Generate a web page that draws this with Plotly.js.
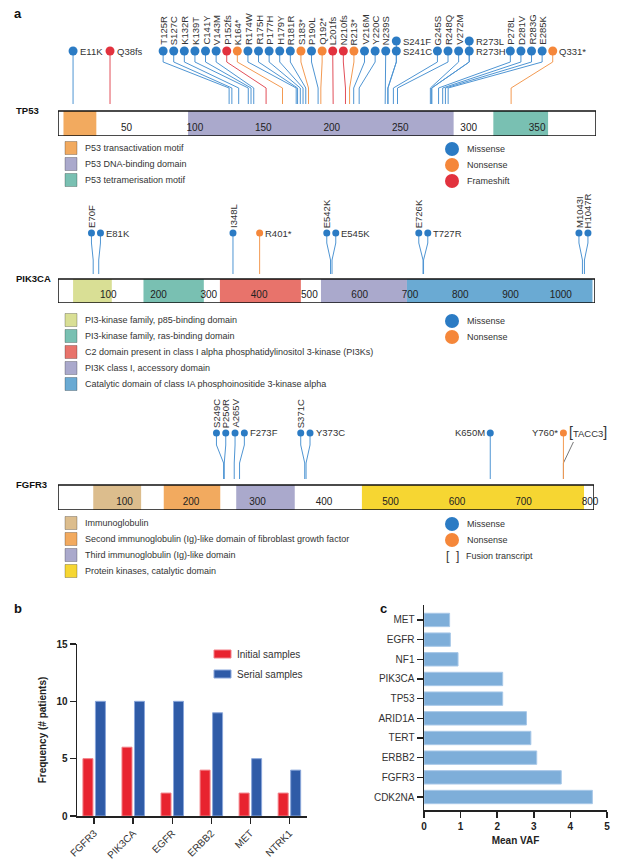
<!DOCTYPE html>
<html><head><meta charset="utf-8">
<script src="https://cdn.plot.ly/plotly-3.0.1.min.js"></script>
<style>html,body{margin:0;padding:0;background:#fff}</style>
</head><body><div id="chart" style="width:634px;height:861px"></div>
<script>
// ================= DATA =================
// --- TP53 lollipop ---
const tp53Length = 393;
const tp53Ticks = [50, 100, 150, 200, 250, 300, 350];
const tp53DomainNames = ['P53 transactivation motif', 'P53 DNA-binding domain', 'P53 tetramerisation motif'];
const tp53DomainStart = [4, 95, 318];
const tp53DomainEnd = [28, 289, 358];
const tp53Mutations = ['E11K','Q38fs','T125R','S127C','K132R','K139T','C141Y','V143M','P152fs','K164*','R174W','R175H','P177H','H179Y','R181R','S183*','P190L','Q192*','L201fs','N210fs','R213*','V216M','Y220C','N239S','S241F','S241C','G245S','R248Q','V272M','R273L','R273H','P278L','D281V','R283G','E285K','Q331*'];
const tp53Types = ['Missense','Frameshift','Missense','Missense','Missense','Missense','Missense','Missense','Frameshift','Nonsense','Missense','Missense','Missense','Missense','Missense','Nonsense','Missense','Nonsense','Frameshift','Frameshift','Nonsense','Missense','Missense','Missense','Missense','Missense','Missense','Missense','Missense','Missense','Missense','Missense','Missense','Missense','Missense','Nonsense'];
const tp53LabelSide = ['right','right','up','up','up','up','up','up','up','up','up','up','up','up','up','up','up','up','up','up','up','up','up','up','right','right','up','up','up','right','right','up','up','up','up','right'];

// --- PIK3CA lollipop ---
const pik3caLength = 1068;
const pik3caTicks = [100, 200, 300, 400, 500, 600, 700, 800, 900, 1000];
const pik3caDomainNames = ['PI3-kinase family, p85-binding domain', 'PI3-kinase family, ras-binding domain', 'C2 domain present in class I alpha phosphatidylinositol 3-kinase (PI3Ks)', 'PI3K class I, accessory domain', 'Catalytic domain of class IA phosphoinositide 3-kinase alpha'];
const pik3caDomainStart = [30, 170, 322, 523, 694];
const pik3caDomainEnd = [107, 290, 483, 694, 1063];
const pik3caMutations = ['E70F','E81K','I348L','R401*','E542K','E545K','E726K','T727R','M1043I','H1047R'];
const pik3caTypes = ['Missense','Missense','Missense','Nonsense','Missense','Missense','Missense','Missense','Missense','Missense'];
const pik3caLabelSide = ['up','right','up','right','up','right','up','right','up','up'];

// --- FGFR3 lollipop ---
const fgfr3Length = 806;
const fgfr3Ticks = [100, 200, 300, 400, 500, 600, 700, 800];
const fgfr3DomainNames = ['Immunoglobulin', 'Second immunoglobulin (Ig)-like domain of fibroblast growth factor', 'Third immunoglobulin (Ig)-like domain', 'Protein kinases, catalytic domain'];
const fgfr3DomainStart = [53, 159, 268, 457];
const fgfr3DomainEnd = [125, 244, 356, 791];
const fgfr3Mutations = ['S249C','P250R','A265V','F273F','S371C','Y373C','K650M','Y760*'];
const fgfr3Types = ['Missense','Missense','Missense','Missense','Missense','Missense','Missense','Nonsense'];
const fgfr3LabelSide = ['up','up','up','right','up','right','left','left'];
const fgfr3FusionPartners = ['TACC3'];
const fgfr3FusionPositions = [760];

// --- panel b ---
const bGenes = ['FGFR3', 'PIK3CA', 'EGFR', 'ERBB2', 'MET', 'NTRK1'];
const bInitial = [5, 6, 2, 4, 2, 2];
const bSerial = [10, 10, 10, 9, 5, 4];
const bSeriesNames = ['Initial samples', 'Serial samples'];

// --- panel c ---
const cGenes = ['CDK2NA', 'FGFR3', 'ERBB2', 'TERT', 'ARID1A', 'TP53', 'PIK3CA', 'NF1', 'EGFR', 'MET'];
const cMeanVAF = [4.60, 3.75, 3.08, 2.92, 2.80, 2.15, 2.15, 0.93, 0.72, 0.70];

// ================= STYLE / LAYOUT =================
const W = 634, H = 861;
const FONT = 'Liberation Sans, Arial, Helvetica, sans-serif';
const px2x = p => p / W;
const px2y = p => 1 - p / H;
const typeColors = {Missense: '#2b7bc4', Nonsense: '#f5873a', Frameshift: '#e2323e'};
const lineColors = {Missense: '#4f95d3', Nonsense: '#f39a52', Frameshift: '#e24f59'};

const panels = [
  {gene: 'TP53', length: tp53Length, ticks: tp53Ticks, domNames: tp53DomainNames, domStart: tp53DomainStart, domEnd: tp53DomainEnd,
   domColors: ['#f2aa5f', '#aaa9cc', '#79c0b2'], mutations: tp53Mutations, types: tp53Types, sides: tp53LabelSide, fusions: [], fusionPos: [],
   top: 0, barLeft: 58, barRight: 596, barTop: 111, barBottom: 136, headY: 51, stackDy: 10, kink1: 62, kink2: 88, lineBottom: 104,
   gap: 10.6, headSize: 9, legendY: 148, mutLegend: ['Missense', 'Nonsense', 'Frameshift']},
  {gene: 'PIK3CA', length: pik3caLength, ticks: pik3caTicks, domNames: pik3caDomainNames, domStart: pik3caDomainStart, domEnd: pik3caDomainEnd,
   domColors: ['#d9df95', '#79c0b2', '#e8736b', '#aaa9cc', '#6aaad3'], mutations: pik3caMutations, types: pik3caTypes, sides: pik3caLabelSide, fusions: [], fusionPos: [],
   top: 185, barLeft: 58, barRight: 595, barTop: 279, barBottom: 303, headY: 233, stackDy: 9, kink1: 243, kink2: 260, lineBottom: 274,
   gap: 9, headSize: 7, legendY: 320, mutLegend: ['Missense', 'Nonsense']},
  {gene: 'FGFR3', length: fgfr3Length, ticks: fgfr3Ticks, domNames: fgfr3DomainNames, domStart: fgfr3DomainStart, domEnd: fgfr3DomainEnd,
   domColors: ['#dcbd8d', '#f2aa5f', '#aaa9cc', '#f6d632'], mutations: fgfr3Mutations, types: fgfr3Types, sides: fgfr3LabelSide, fusions: fgfr3FusionPartners, fusionPos: fgfr3FusionPositions,
   top: 380, barLeft: 58, barRight: 594, barTop: 485, barBottom: 510, headY: 433, stackDy: 9, kink1: 445, kink2: 463, lineBottom: 479,
   gap: 9.3, headSize: 7, legendY: 523, mutLegend: ['Missense', 'Nonsense', 'Fusion']}
];

const traces = [];
const shapes = [];
const annotations = [];
const layout = {
  width: W, height: H, margin: {l: 0, r: 0, t: 0, b: 0},
  paper_bgcolor: '#fff', plot_bgcolor: 'rgba(0,0,0,0)',
  font: {family: FONT, color: '#222'}, showlegend: false,
  barmode: 'group', bargap: 0.36, bargroupgap: 0.2,
  shapes, annotations
};

const labelWidth = s => s.length * 5.3 + 4;
const parsePos = s => parseInt(s.match(/\d+/)[0], 10);

panels.forEach((P, k) => {
  const n = k + 1;
  const xa = n === 1 ? 'x' : 'x' + n, ya = n === 1 ? 'y' : 'y' + n;
  const xName = n === 1 ? 'xaxis' : 'xaxis' + n, yName = n === 1 ? 'yaxis' : 'yaxis' + n;
  const ppa = (P.barRight - P.barLeft) / P.length;
  layout[xName] = {domain: [px2x(P.barLeft), px2x(P.barRight)], range: [0, P.length], anchor: ya,
    showgrid: false, zeroline: false, showline: false, ticks: '', tickvals: P.ticks, ticktext: P.ticks.map(String),
    ticklabelposition: 'inside', ticklabeloverflow: 'allow', tickfont: {size: 10, color: '#222', family: FONT}, fixedrange: true, automargin: false};
  layout[yName] = {domain: [px2y(P.barBottom), px2y(P.top)], range: [P.barBottom, P.top], anchor: xa, visible: false, fixedrange: true};

  // domains
  P.domStart.forEach((s, i) => shapes.push({type: 'rect', xref: xa, yref: ya, x0: s, x1: P.domEnd[i], y0: P.barTop, y1: P.barBottom,
    fillcolor: P.domColors[i], line: {width: 0}, layer: 'below'}));
  shapes.push({type: 'rect', xref: xa, yref: ya, x0: 0, x1: P.length, y0: P.barTop, y1: P.barBottom,
    fillcolor: 'rgba(0,0,0,0)', line: {color: '#111', width: 1.5}, layer: 'above'});

  // gene name
  annotations.push({xref: 'paper', yref: 'paper', x: px2x(14), y: px2y(P.barTop - 1), xanchor: 'left', yanchor: 'middle', showarrow: false,
    text: P.gene, font: {size: 9.5, weight: 'bold', color: '#111', family: FONT}});

  // group mutations by codon
  const muts = P.mutations.map((m, i) => ({name: m, pos: parsePos(m), type: P.types[i], side: P.sides[i]}));
  const groups = [];
  muts.forEach(m => {
    let g = groups.find(q => q.pos === m.pos);
    if (!g) { g = {pos: m.pos, members: []}; groups.push(g); }
    g.members.push(m);
  });
  groups.sort((a, b) => a.pos - b.pos);
  groups.forEach(g => {
    g.d = g.pos * ppa;
    const side = g.members[0].side;
    const lw = Math.max(...g.members.map(m => m.side === 'up' ? 0 : labelWidth(m.name)));
    g.left = P.gap / 2 + (side === 'left' ? lw : 0);
    g.right = P.gap / 2 + (side === 'right' ? lw : 0);
    g.fusions = [];
    P.fusionPos.forEach((fp, j) => { if (fp === g.pos) { g.fusions.push(P.fusions[j]); g.right += labelWidth(P.fusions[j]) + 10; } });
  });
  // merge overlapping blocks
  let blocks = groups.map(g => [g]);
  const bpos = b => {
    let off = 0; const offs = [];
    b.forEach((g, j) => { if (j > 0) off += b[j - 1].right + g.left; offs.push(off); });
    const s = b.reduce((a, g, j) => a + g.d - offs[j], 0) / b.length;
    return {s, offs, l: s - b[0].left, r: s + offs[offs.length - 1] + b[b.length - 1].right};
  };
  let changed = true;
  while (changed) {
    changed = false;
    for (let j = 0; j < blocks.length - 1; j++) {
      if (bpos(blocks[j]).r > bpos(blocks[j + 1]).l) {
        blocks.splice(j, 2, blocks[j].concat(blocks[j + 1]));
        changed = true; break;
      }
    }
  }
  blocks.forEach(b => { const bp = bpos(b); b.forEach((g, j) => { g.hx = bp.s + bp.offs[j]; }); });

  // build lines, heads, labels
  const lines = {}, heads = {};
  const fusionLine = {x: [], y: []};
  groups.forEach(g => {
    const nM = g.members.length;
    const hxA = g.hx / ppa;
    const straight = Math.abs(g.hx - g.d) < 0.6;
    g.members.forEach((m, j) => {
      const row = nM - 1 - j;
      const hy = P.headY - row * P.stackDy;
      lines[m.type] = lines[m.type] || {x: [], y: []};
      heads[m.type] = heads[m.type] || {x: [], y: []};
      const L = lines[m.type];
      if (straight) { L.x.push(hxA, g.pos, null); L.y.push(hy, P.lineBottom, null); }
      else { L.x.push(hxA, hxA, g.pos, g.pos, null); L.y.push(hy, P.kink1, P.kink2, P.lineBottom, null); }
      heads[m.type].x.push(hxA); heads[m.type].y.push(hy);
      const r = P.headSize / 2;
      if (m.side === 'up') {
        annotations.push({xref: xa, yref: ya, x: hxA, y: hy - r - 0.5, textangle: -90, xanchor: 'center', yanchor: 'bottom',
          showarrow: false, text: m.name, borderpad: 0, font: {size: 9.5, color: '#333', family: FONT}});
      } else {
        annotations.push({xref: xa, yref: ya, x: hxA, y: hy, xanchor: m.side === 'right' ? 'left' : 'right', yanchor: 'middle',
          xshift: m.side === 'right' ? r + 1 : -(r + 1), showarrow: false, text: m.name, borderpad: 0, font: {size: 9.5, color: '#333', family: FONT}});
      }
    });
    g.fusions.forEach(f => {
      const fx = (g.hx + 10) / ppa;
      fusionLine.x.push(fx, g.pos, g.pos, null); fusionLine.y.push(P.headY + 9, P.kink2, P.lineBottom, null);
      annotations.push({xref: xa, yref: ya, x: (g.hx + 5) / ppa, y: P.headY - 1, xanchor: 'left', yanchor: 'middle', showarrow: false, borderpad: 0,
        text: '<span style="font-size:14px">[</span>' + f + '<span style="font-size:14px">]</span>', font: {size: 9.5, color: '#333', family: FONT}});
    });
  });
  if (fusionLine.x.length) traces.push({type: 'scatter', mode: 'lines', x: fusionLine.x, y: fusionLine.y, xaxis: xa, yaxis: ya,
    line: {color: '#777', width: 1}, hoverinfo: 'skip', cliponaxis: false});
  Object.keys(lines).forEach(t => traces.push({type: 'scatter', mode: 'lines', x: lines[t].x, y: lines[t].y, xaxis: xa, yaxis: ya,
    line: {color: lineColors[t], width: 1}, hoverinfo: 'skip', cliponaxis: false}));
  Object.keys(heads).forEach(t => traces.push({type: 'scatter', mode: 'markers', x: heads[t].x, y: heads[t].y, xaxis: xa, yaxis: ya,
    marker: {size: P.headSize, color: typeColors[t], line: {width: 0}}, hoverinfo: 'skip', cliponaxis: false}));

  // domain legend
  P.domNames.forEach((nm, i) => {
    const cy = P.legendY + i * 16;
    shapes.push({type: 'rect', xref: 'paper', yref: 'paper', x0: px2x(65), x1: px2x(77), y0: px2y(cy - 6.5), y1: px2y(cy + 6.5),
      fillcolor: P.domColors[i], line: {color: 'rgba(0,0,0,0.25)', width: 1}});
    annotations.push({xref: 'paper', yref: 'paper', x: px2x(83), y: px2y(cy), xanchor: 'left', yanchor: 'middle', showarrow: false,
      text: nm, font: {size: 9, color: '#333', family: FONT}});
  });
  // mutation legend
  P.mutLegend.forEach((t, i) => {
    const cy = P.legendY + 1 + i * 16;
    if (t === 'Fusion') {
      annotations.push({xref: 'paper', yref: 'paper', x: px2x(452), y: px2y(cy), xanchor: 'center', yanchor: 'middle', showarrow: false,
        text: '[&nbsp;&nbsp;]', font: {size: 12, color: '#333', family: FONT}});
      annotations.push({xref: 'paper', yref: 'paper', x: px2x(464), y: px2y(cy), xanchor: 'left', yanchor: 'middle', showarrow: false,
        text: 'Fusion transcript', font: {size: 9, color: '#333', family: FONT}});
    } else {
      shapes.push({type: 'circle', xref: 'paper', yref: 'paper', x0: px2x(445), x1: px2x(459), y0: px2y(cy - 7), y1: px2y(cy + 7),
        fillcolor: typeColors[t], line: {width: 0}});
      annotations.push({xref: 'paper', yref: 'paper', x: px2x(465), y: px2y(cy), xanchor: 'left', yanchor: 'middle', showarrow: false,
        text: t, font: {size: 9, color: '#333', family: FONT}});
    }
  });
});

// ---------- panel b ----------
const bColors = ['#e8232f', '#2f5ba7'];
const bEdge = ['#f27f87', '#8aa6da'];
[bInitial, bSerial].forEach((vals, i) => traces.push({type: 'bar', x: bGenes, y: vals, name: bSeriesNames[i], xaxis: 'x4', yaxis: 'y4',
  marker: {color: bColors[i], line: {color: bEdge[i], width: 1}}, hoverinfo: 'skip'}));
layout.xaxis4 = {domain: [px2x(77), px2x(307)], anchor: 'y4', type: 'category', range: [-0.44, 5.45], showline: true, linecolor: '#222', linewidth: 1.5,
  ticks: 'outside', ticklen: 6, tickwidth: 1.5, tickcolor: '#222', tickangle: -45, tickfont: {size: 10, color: '#333', family: FONT},
  showgrid: false, zeroline: false, fixedrange: true, automargin: false};
layout.yaxis4 = {domain: [px2y(816), px2y(644)], anchor: 'x4', range: [0, 15], tickvals: [0, 5, 10, 15], showline: true, linecolor: '#222', linewidth: 1.5,
  ticks: 'outside', ticklen: 6, tickwidth: 1.5, tickcolor: '#222', tickfont: {size: 10, weight: 'bold', color: '#222', family: FONT},
  title: {text: 'Frequency (# patients)', font: {size: 10, weight: 'bold', color: '#222', family: FONT}, standoff: 8},
  showgrid: false, zeroline: false, fixedrange: true, automargin: false};
bSeriesNames.forEach((nm, i) => {
  const cy = 654 + i * 20;
  shapes.push({type: 'rect', xref: 'paper', yref: 'paper', x0: px2x(214), x1: px2x(231), y0: px2y(cy - 4), y1: px2y(cy + 4),
    fillcolor: bColors[i], line: {color: bEdge[i], width: 1}});
  annotations.push({xref: 'paper', yref: 'paper', x: px2x(235), y: px2y(cy), xanchor: 'left', yanchor: 'middle', showarrow: false,
    text: nm, font: {size: 10, color: '#333', family: FONT}});
});

// ---------- panel c ----------
traces.push({type: 'bar', orientation: 'h', x: cMeanVAF, y: cGenes, xaxis: 'x5', yaxis: 'y5', width: 0.68,
  marker: {color: '#7eaed9', line: {color: '#a8c8e8', width: 1}}, hoverinfo: 'skip'});
layout.xaxis5 = {domain: [px2x(424), px2x(607)], anchor: 'y5', range: [0, 5], dtick: 1, showline: true, linecolor: '#222', linewidth: 1.5,
  ticks: 'outside', ticklen: 6, tickwidth: 1.5, tickcolor: '#222', tickfont: {size: 10, weight: 'bold', color: '#222', family: FONT},
  title: {text: 'Mean VAF', font: {size: 10, weight: 'bold', color: '#222', family: FONT}, standoff: 6},
  showgrid: false, zeroline: false, fixedrange: true, automargin: false};
layout.yaxis5 = {domain: [px2y(810), px2y(605)], anchor: 'x5', type: 'category', range: [-0.66, 9.76], showline: true, linecolor: '#222', linewidth: 1.5,
  ticks: 'outside', ticklen: 6, tickwidth: 1.5, tickcolor: '#222', tickfont: {size: 10, color: '#333', family: FONT},
  showgrid: false, zeroline: false, fixedrange: true, automargin: false};

// panel letters
[['a', 18, 14], ['b', 18, 608], ['c', 383, 608]].forEach(([t, x, y]) => annotations.push({xref: 'paper', yref: 'paper', x: px2x(x), y: px2y(y),
  xanchor: 'center', yanchor: 'middle', showarrow: false, text: t, font: {size: 13, weight: 'bold', color: '#111', family: FONT}}));

Plotly.newPlot('chart', traces, layout, {displayModeBar: false, staticPlot: true});
</script>
</body></html>
